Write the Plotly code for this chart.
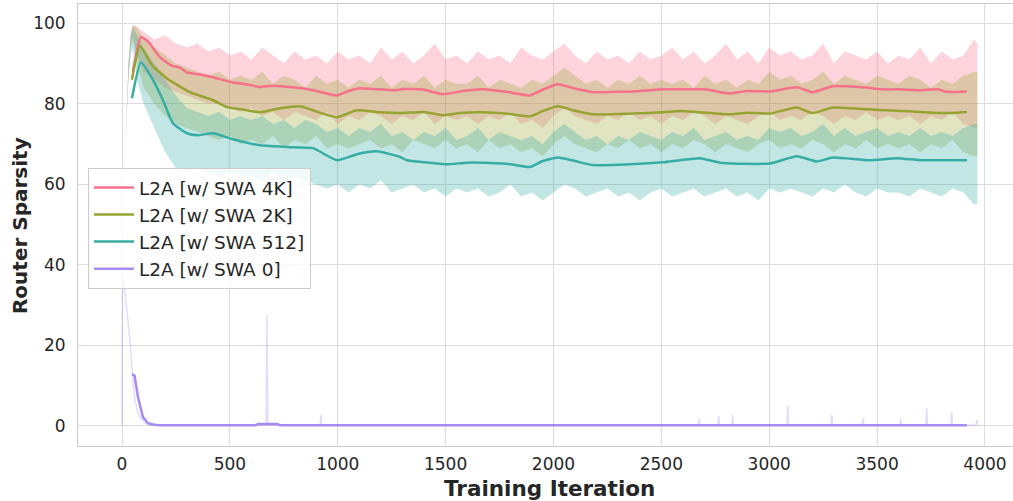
import plotly.graph_objects as go

# ---- smoothed curves (iteration, sparsity) ----
swa4k_x = [50, 88, 120, 176, 230, 269, 301, 360, 422, 514, 580, 640, 700, 792, 885, 996, 1050, 1103,
           1180, 1274, 1302, 1400, 1487, 1580, 1673, 1780, 1891, 1950, 2020, 2100, 2183, 2280, 2368,
           2450, 2507, 2586, 2700, 2817, 2900, 3003, 3128, 3202, 3295, 3434, 3520, 3591, 3700, 3780,
           3823, 3916]
swa4k_y = [88.0, 96.6, 95.5, 91.6, 89.5, 89.0, 87.8, 87.3, 86.6, 85.3, 84.8, 84.2, 84.5, 84.1, 83.4,
           82.1, 83.2, 83.9, 83.6, 83.4, 83.7, 83.5, 82.4, 83.2, 83.6, 83.0, 82.1, 83.5, 84.9, 83.8,
           82.9, 83.0, 83.1, 83.4, 83.6, 83.6, 83.6, 82.6, 83.2, 83.1, 84.1, 82.9, 84.4, 84.1, 83.6,
           83.6, 83.4, 83.6, 83.0, 83.1]

swa2k_x = [46, 83, 139, 209, 315, 422, 487, 560, 640, 732, 825, 885, 996, 1089, 1196, 1289, 1400,
           1487, 1580, 1673, 1780, 1891, 1950, 2020, 2100, 2183, 2368, 2507, 2586, 2678, 2817, 2900,
           3003, 3128, 3202, 3295, 3434, 3591, 3700, 3823, 3916]
swa2k_y = [86.0, 94.4, 89.6, 86.3, 82.9, 80.9, 79.2, 78.6, 77.9, 78.9, 79.4, 78.4, 76.7, 78.4, 77.9,
           77.7, 78.0, 77.2, 77.8, 77.9, 77.6, 76.9, 78.2, 79.4, 78.3, 77.4, 77.6, 77.9, 78.2, 77.9,
           77.4, 77.8, 77.6, 79.1, 77.7, 79.1, 78.7, 78.3, 78.0, 77.7, 78.0]

swa512_x = [46, 88, 144, 190, 236, 301, 348, 422, 514, 640, 792, 885, 996, 1089, 1182, 1289, 1321,
            1400, 1506, 1600, 1706, 1800, 1891, 1950, 2020, 2100, 2183, 2355, 2507, 2586, 2678, 2786,
            3003, 3128, 3221, 3295, 3467, 3592, 3700, 3824, 3916]
swa512_y = [81.4, 90.3, 85.9, 80.9, 75.2, 72.7, 72.2, 72.7, 71.2, 69.7, 69.2, 69.0, 66.0, 67.5, 68.2,
            66.8, 66.0, 65.5, 65.0, 65.4, 65.3, 65.0, 64.3, 65.8, 66.7, 65.8, 64.8, 65.0, 65.5, 66.0,
            66.5, 65.3, 65.2, 67.0, 65.7, 66.7, 66.0, 66.5, 66.0, 66.0, 66.0]

swa0_x = [46, 58, 74, 97, 120, 144, 170, 620, 630, 720, 730, 3916]
swa0_y = [12.9, 12.5, 7.2, 2.2, 0.7, 0.35, 0.2, 0.2, 0.5, 0.5, 0.2, 0.2]

# ---- raw (unsmoothed) spread: upper / lower envelopes on a common iteration grid ----
raw_x = [0, 5, 12, 20, 30, 40, 50, 70] + list(range(100, 3951, 50)) + [3965]

raw4k_hi = [0, 55, 64, 78, 90, 97, 99.6, 99,
            98, 96, 97, 95, 94, 95, 93, 94, 92, 93,
            91, 94, 92, 90, 93, 91, 92, 90, 93, 91,
            92, 90, 94, 91, 93, 90, 92, 95, 91, 92,
            90, 93, 91, 92, 90, 94, 92, 91, 93, 95,
            92, 90, 93, 91, 92, 90, 93, 91, 92, 94,
            91, 93, 90, 92, 95, 91, 93, 90, 94, 92,
            93, 91, 92, 95, 90, 93, 92, 91, 93, 90,
            92, 91, 94, 90, 93, 91, 92, 96, 95]
raw4k_lo = [0, 55, 62, 75, 87, 94, 97, 92,
            88, 86, 84, 83, 82, 81, 80, 80, 79, 78,
            79, 77, 78, 76, 78, 77, 76, 78, 75, 77,
            76, 78, 77, 75, 77, 76, 78, 75, 77, 76,
            77, 75, 77, 76, 78, 75, 76, 74, 77, 79,
            77, 76, 75, 77, 76, 78, 76, 77, 75, 77,
            76, 78, 77, 75, 77, 76, 75, 77, 78, 76,
            77, 76, 78, 77, 75, 77, 76, 78, 76, 77,
            76, 77, 75, 77, 76, 78, 75, 74, 74]

raw2k_hi = [0, 55, 64, 78, 90, 97, 99.6, 99,
            96, 94, 92, 90, 89, 88, 87, 88, 86, 87,
            86, 88, 85, 87, 86, 84, 87, 85, 86, 84,
            86, 85, 87, 84, 86, 85, 87, 84, 86, 85,
            85, 87, 84, 86, 85, 84, 86, 85, 87, 89,
            87, 85, 86, 84, 86, 85, 87, 85, 86, 85,
            86, 84, 87, 85, 86, 84, 86, 85, 88, 86,
            87, 85, 86, 88, 85, 87, 86, 85, 87, 86,
            85, 87, 86, 84, 86, 85, 87, 88, 88]
raw2k_lo = [0, 55, 62, 75, 87, 94, 96, 90,
            84, 80, 77, 75, 74, 73, 72, 71, 72, 70,
            71, 70, 72, 69, 71, 70, 72, 69, 70, 69,
            70, 71, 69, 70, 68, 71, 70, 69, 71, 69,
            70, 68, 71, 69, 70, 68, 69, 67, 70, 72,
            70, 69, 68, 70, 69, 71, 69, 70, 68, 70,
            69, 71, 70, 68, 70, 69, 68, 70, 71, 69,
            70, 69, 71, 70, 68, 70, 69, 71, 69, 70,
            69, 70, 68, 70, 69, 71, 68, 67, 67]

raw512_hi = [0, 55, 64, 78, 90, 97, 99, 97,
             94, 90, 86, 82, 79, 78, 77, 78, 76, 77,
             76, 77, 75, 76, 74, 76, 75, 73, 74, 72,
             74, 73, 75, 72, 73, 71, 73, 72, 74, 71,
             72, 74, 71, 73, 72, 71, 72, 70, 73, 75,
             73, 71, 72, 70, 72, 71, 73, 72, 71, 73,
             72, 74, 71, 72, 73, 71, 72, 71, 74, 73,
             74, 72, 73, 75, 72, 74, 72, 73, 74, 72,
             73, 72, 74, 72, 73, 72, 74, 75, 75]
raw512_lo = [0, 55, 62, 75, 86, 92, 94, 86,
             80, 74, 68, 64, 63, 64, 63, 62, 63, 62,
             62, 61, 63, 60, 62, 61, 60, 59, 60, 58,
             60, 59, 61, 58, 59, 60, 58, 59, 57, 59,
             58, 59, 57, 58, 60, 57, 58, 56, 58, 60,
             59, 57, 58, 59, 57, 58, 56, 58, 59, 57,
             58, 59, 57, 58, 59, 57, 58, 56, 59, 58,
             59, 58, 57, 59, 58, 60, 58, 57, 59, 58,
             58, 57, 59, 58, 57, 59, 58, 55, 55]

raw0_x = [0, 2, 8, 15, 22, 28, 37, 46, 53, 60, 70, 83, 107, 140, 400, 668, 672, 676, 918, 922, 926,
          1500, 2100, 2671, 2675, 2679, 2762, 2766, 2770, 2827, 2831, 2835, 3082, 3086, 3090, 3286,
          3290, 3294, 3431, 3435, 3439, 3606, 3610, 3614, 3726, 3730, 3734, 3842, 3846, 3850, 3958,
          3962, 3967]
raw0_y = [0, 37, 36, 33, 30, 26, 21, 14, 10, 6.5, 4, 2.2, 0.7, 0.2, 0.2, 0.2, 27.5, 0.2, 0.2, 2.7,
          0.2, 0.2, 0.2, 0.2, 2.0, 0.2, 0.2, 2.5, 0.2, 0.2, 2.7, 0.2, 0.2, 5.0, 0.2, 0.2, 2.7, 0.2,
          0.2, 2.0, 0.2, 0.2, 1.7, 0.2, 0.2, 4.5, 0.2, 0.2, 3.5, 0.2, 0.2, 1.5, 0.2]

labels = ["L2A [w/ SWA 4K]", "L2A [w/ SWA 2K]", "L2A [w/ SWA 512]", "L2A [w/ SWA 0]"]
colors = ["#f77189", "#97a431", "#36ada4", "#a48cf4"]


def rgba(hex_color, a):
    h = hex_color.lstrip("#")
    r, g, b = int(h[0:2], 16), int(h[2:4], 16), int(h[4:6], 16)
    return f"rgba({r},{g},{b},{a})"


fig = go.Figure()

# raw spread bands
for hi, lo, col in [(raw4k_hi, raw4k_lo, colors[0]),
                    (raw2k_hi, raw2k_lo, colors[1]),
                    (raw512_hi, raw512_lo, colors[2])]:
    fig.add_trace(go.Scatter(
        x=raw_x + raw_x[::-1], y=hi + lo[::-1],
        mode="lines", fill="toself", fillcolor=rgba(col, 0.3),
        line=dict(width=0), hoverinfo="skip", showlegend=False))

fig.add_trace(go.Scatter(x=raw0_x, y=raw0_y, mode="lines",
                         line=dict(color=rgba(colors[3], 0.3), width=1.5),
                         hoverinfo="skip", showlegend=False))

# smoothed curves
for xs, ys, name, col, shape in [(swa4k_x, swa4k_y, labels[0], colors[0], "spline"),
                                 (swa2k_x, swa2k_y, labels[1], colors[1], "spline"),
                                 (swa512_x, swa512_y, labels[2], colors[2], "spline"),
                                 (swa0_x, swa0_y, labels[3], colors[3], "linear")]:
    fig.add_trace(go.Scatter(x=xs, y=ys, mode="lines", name=name,
                             line=dict(color=col, width=2.5, shape=shape, smoothing=0.5)))

font_family = "DejaVu Sans"
text_color = "#262626"
tick_font = dict(family=font_family, size=17, color=text_color)
grid = "#dcdcdc"

fig.update_layout(
    width=1013, height=501,
    margin=dict(l=78, r=0, t=4, b=55),
    paper_bgcolor="white", plot_bgcolor="white",
    font=dict(family=font_family, color=text_color),
    legend=dict(x=0.0107, y=0.629, xanchor="left", yanchor="top",
                bgcolor="rgba(255,255,255,0.8)", bordercolor="#cccccc", borderwidth=1,
                font=dict(family=font_family, size=18.5, color=text_color),
                tracegroupgap=0, itemwidth=40),
    xaxis=dict(range=[-204, 4130], tickvals=[0, 500, 1000, 1500, 2000, 2500, 3000, 3500, 4000],
               showgrid=True, gridcolor=grid, gridwidth=1, zeroline=False,
               showline=True, linecolor="#cccccc", linewidth=1, mirror=True,
               ticks="", ticklabelstandoff=3, tickfont=tick_font),
    yaxis=dict(range=[-4.97, 104.8], tickvals=[0, 20, 40, 60, 80, 100],
               showgrid=True, gridcolor=grid, gridwidth=1, zeroline=False,
               showline=True, linecolor="#cccccc", linewidth=1,
               ticks="", ticklabelstandoff=8, tickfont=tick_font),
    annotations=[
        dict(text="<b>Training Iteration</b>", xref="paper", yref="paper",
             x=0.5048, y=-0.0955, xanchor="center", yanchor="middle", showarrow=False,
             font=dict(family=font_family, size=21.5, color=text_color)),
        dict(text="<b>Router Sparsity</b>", xref="paper", yref="paper",
             x=-0.062, y=0.4977, xanchor="center", yanchor="middle", showarrow=False,
             textangle=-90, font=dict(family=font_family, size=20, color=text_color)),
    ],
)

fig.write_html("out.html")
